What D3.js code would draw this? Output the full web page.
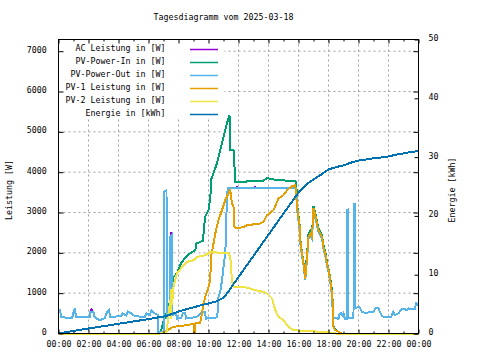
<!DOCTYPE html>
<html><head><meta charset="utf-8">
<script src="https://cdnjs.cloudflare.com/ajax/libs/d3/7.8.5/d3.min.js"></script>
<style>
html,body{margin:0;padding:0;background:#fff;}
svg{display:block;}
text{font-family:"DejaVu Sans Mono",monospace;font-size:8.3px;fill:#000;}
</style></head>
<body>
<svg id="chart" width="480" height="360"></svg>
<script>
const title = "Tagesdiagramm vom 2025-03-18";
const yLabel = "Leistung [W]";
const y2Label = "Energie [kWh]";
const seriesNames = ["AC Leistung in [W]","PV-Power-In in [W]","PV-Power-Out in [W]","PV-1 Leistung in [W]","PV-2 Leistung in [W]","Energie in [kWh]"];
const seriesColors = ["#9400d3","#009e73","#56b4e9","#e69f00","#f0e442","#0072b2"];
const xTickHours = [0,2,4,6,8,10,12,14,16,18,20,22,24];
const xTickLabels = ["00:00","02:00","04:00","06:00","08:00","10:00","12:00","14:00","16:00","18:00","20:00","22:00","00:00"];
const yTicks = [0,1000,2000,3000,4000,5000,6000,7000];
const y2Ticks = [0,10,20,30,40,50];

const pvOut = [["00:00",600],["00:07",580],["00:10",400],["00:55",390],["01:00",530],["01:05",620],["01:10",420],["02:05",410],["02:08",540],["02:20",520],["02:25",400],["02:45",330],["03:05",380],["03:15",540],["03:22",580],["03:27",410],["04:10",430],["04:17",500],["04:30",450],["04:37",540],["04:50",500],["05:05",430],["05:45",410],["05:52",500],["06:05",450],["06:12",580],["06:25",500],["06:38",460],["06:40",30],["07:02",30],["07:03",3520],["07:12",3550],["07:13",350],["07:20",480],["07:27",480],["07:28",2400],["07:33",2440],["07:34",450],["07:50",500],["07:55",370],["08:10",380],["08:17",500],["08:27",500],["08:30",370],["09:00",400],["09:20",430],["09:33",540],["09:45",540],["09:50",370],["10:35",400],["10:40",900],["10:47",1030],["10:54",1320],["11:00",1650],["11:05",1900],["11:10",2300],["11:13",3300],["11:17",3610],["15:50",3610],["15:56",3000],["16:04",2600],["16:07",2250],["16:14",1930],["16:20",1690],["16:27",1320],["16:34",1850],["16:40",2350],["16:47",2430],["16:54",2350],["17:00",3050],["17:07",2880],["17:14",2680],["17:20",2510],["17:27",2430],["17:34",2350],["17:40",2100],["17:47",1930],["17:54",1690],["18:00",1520],["18:07",1290],["18:14",940],["18:18",380],["18:40",370],["18:42",450],["18:50",500],["18:55",450],["19:00",510],["19:05",370],["19:13",370],["19:14",3070],["19:19",3075],["19:20",380],["19:40",380],["19:41",3200],["19:46",3200],["19:47",620],["20:00",660],["20:07",620],["20:14",540],["20:30",500],["20:45",540],["21:00",540],["21:07",620],["21:20",620],["21:25",540],["21:35",430],["21:45",400],["22:10",410],["22:15",480],["22:20",540],["22:25",460],["22:40",500],["22:55",620],["23:15",580],["23:20",620],["23:45",600],["23:50",750],["24:00",700]];

const acPower = [["00:00",600],["00:07",580],["00:10",400],["00:55",390],["01:00",530],["01:05",620],["01:10",420],["02:05",410],["02:08",540],["02:12",590],["02:20",520],["02:25",400],["02:45",330],["03:05",380],["03:15",540],["03:22",580],["03:27",410],["04:10",430],["04:17",500],["04:30",450],["04:37",540],["04:50",500],["05:05",430],["05:45",410],["05:52",500],["06:05",450],["06:12",580],["06:25",500],["06:38",460],["06:40",30],["07:02",30],["07:03",3520],["07:12",3550],["07:13",350],["07:20",480],["07:27",480],["07:28",2400],["07:31",2500],["07:33",2440],["07:34",450],["07:50",500],["07:55",370],["08:10",380],["08:17",500],["08:27",500],["08:30",370],["09:00",400],["09:20",430],["09:33",540],["09:45",540],["09:50",370],["10:35",400],["10:40",900],["10:47",1030],["10:54",1320],["11:00",1650],["11:05",1900],["11:10",2300],["11:13",3300],["11:17",3610],["11:52",3610],["11:54",3660],["11:56",3610],["13:05",3610],["13:07",3660],["13:09",3610],["15:50",3610],["15:56",3000],["16:04",2600],["16:07",2250],["16:14",1930],["16:20",1690],["16:27",1320],["16:34",1850],["16:40",2350],["16:47",2430],["16:54",2350],["17:00",3050],["17:07",2880],["17:14",2680],["17:20",2510],["17:27",2430],["17:34",2350],["17:40",2100],["17:47",1930],["17:54",1690],["18:00",1520],["18:07",1290],["18:14",940],["18:18",380],["18:40",370],["18:42",450],["18:50",500],["18:55",450],["19:00",510],["19:05",370],["19:13",370],["19:14",3070],["19:19",3075],["19:20",380],["19:40",380],["19:41",3200],["19:46",3200],["19:47",620],["20:00",660],["20:07",620],["20:14",540],["20:30",500],["20:45",540],["21:00",540],["21:07",620],["21:20",620],["21:25",540],["21:35",430],["21:45",400],["22:10",410],["22:15",480],["22:20",540],["22:25",460],["22:40",500],["22:55",620],["23:15",580],["23:20",620],["23:45",600],["23:50",750],["24:00",700]];

const pvIn = [["00:00",0],["06:45",0],["06:50",60],["07:00",300],["07:10",450],["07:20",660],["07:28",830],["07:32",1150],["07:40",1400],["07:54",1490],["08:10",1740],["08:30",1900],["08:47",1990],["09:07",2070],["09:12",2230],["09:38",2300],["09:42",2640],["09:47",2900],["10:00",3060],["10:07",3350],["10:12",3840],["10:34",4220],["10:47",4550],["11:00",4880],["11:14",5210],["11:24",5420],["11:27",4550],["11:40",4550],["11:44",4130],["11:47",3760],["12:30",3760],["12:40",3790],["13:40",3790],["13:54",3860],["14:07",3830],["14:47",3800],["15:47",3780],["15:51",3720],["15:56",3100],["16:04",2730],["16:07",2350],["16:14",2000],["16:20",1750],["16:27",1450],["16:34",1950],["16:40",2450],["16:47",2550],["16:54",2450],["17:00",3150],["17:07",2980],["17:14",2780],["17:20",2600],["17:27",2520],["17:34",2430],["17:40",2200],["17:47",2030],["17:54",1760],["18:00",1600],["18:07",1380],["18:14",1050],["18:18",680],["18:20",180],["18:27",90],["18:40",45],["18:55",0],["24:00",0]];

const pv1 = [["00:00",0],["06:45",0],["07:00",30],["07:20",100],["07:40",165],["08:00",180],["08:34",210],["09:03",240],["09:04",0],["09:05",245],["09:27",270],["09:34",495],["09:40",744],["09:47",907],["09:54",1031],["10:00",1155],["10:07",1322],["10:10",1900],["10:14",2023],["10:20",2231],["10:27",2480],["10:40",2809],["10:54",3057],["11:07",3306],["11:20",3471],["11:27",3553],["11:34",3223],["11:40",3140],["11:44",2643],["11:54",2603],["12:20",2643],["12:34",2685],["13:27",2727],["13:40",2768],["13:54",2933],["14:20",3057],["14:40",3347],["15:00",3430],["15:14",3553],["15:34",3652],["15:47",3677],["15:51",3387],["15:56",3057],["16:04",2685],["16:07",2313],["16:14",1983],["16:20",1735],["16:27",1364],["16:34",1900],["16:40",2395],["16:47",2480],["16:54",2395],["17:00",3100],["17:07",2933],["17:14",2727],["17:20",2561],["17:27",2480],["17:34",2395],["17:40",2150],["17:47",1983],["17:54",1735],["18:00",1570],["18:07",1340],["18:14",990],["18:18",660],["18:20",165],["18:27",82],["18:40",40],["18:54",0],["24:00",0]];

const pv2 = [["00:00",0],["06:45",0],["07:10",20],["07:14",80],["07:20",495],["07:27",826],["07:29",350],["07:31",1100],["07:34",700],["07:40",1155],["07:54",1490],["08:20",1694],["08:34",1775],["09:00",1817],["09:14",1900],["09:47",1942],["10:07",2023],["10:34",2008],["11:14",2008],["11:20",1983],["11:27",1900],["11:34",1322],["11:40",1155],["12:20",1155],["12:47",1116],["13:07",1074],["13:40",1031],["13:54",992],["14:14",868],["14:27",578],["14:40",412],["15:00",330],["15:20",165],["15:40",83],["16:34",57],["17:54",40],["18:14",15],["18:30",0],["24:00",0]];

const energy = [["00:00",0],["01:00",0.45],["02:00",0.85],["03:00",1.25],["04:00",1.65],["05:00",2.05],["06:00",2.45],["06:40",2.75],["07:00",2.85],["07:30",3.25],["08:00",3.75],["08:30",4.1],["09:00",4.45],["09:30",4.8],["10:00",5.1],["10:30",5.45],["10:47",5.8],["11:00",6.1],["11:14",6.8],["11:30",7.8],["12:00",9.6],["12:30",11.4],["13:00",13.2],["13:30",15.0],["14:00",16.8],["14:30",18.6],["15:00",20.4],["15:30",22.2],["15:50",23.4],["16:10",24.4],["16:30",25.3],["17:00",26.2],["17:30",27.0],["18:00",27.9],["18:30",28.3],["19:00",28.6],["19:40",29.2],["20:00",29.4],["21:00",29.8],["21:47",30.0],["22:30",30.4],["23:15",30.75],["24:00",31.05]];

const toHours = s => { const [h,m] = s.split(":").map(Number); return h + m/60; };

const L = 58.5, R = 418.5, T = 39.5, B = 333.5;
const svg = d3.select("#chart");
const x = d3.scaleLinear().domain([0,24]).range([L,R]);
const y = d3.scaleLinear().domain([0,7290]).range([B,T]);
const y2 = d3.scaleLinear().domain([0,50]).range([B,T]);

// grid
const grid = svg.append("g").attr("stroke","#a0a0a0").attr("stroke-width",1).attr("stroke-dasharray","2,3");
xTickHours.slice(1,-1).forEach(h => grid.append("line").attr("x1",x(h)).attr("x2",x(h)).attr("y1",T).attr("y2",B));
yTicks.slice(1).forEach(v => grid.append("line").attr("x1",L).attr("x2",R).attr("y1",y(v)).attr("y2",y(v)));

// series
const lineW = d3.line().x(d => x(toHours(d[0]))).y(d => y(d[1]));
const lineE = d3.line().x(d => x(toHours(d[0]))).y(d => y2(d[1]));
const plots = [
  {data: acPower, gen: lineW},
  {data: pvIn, gen: lineW},
  {data: pvOut, gen: lineW},
  {data: pv1, gen: lineW},
  {data: pv2, gen: lineW},
  {data: energy, gen: lineE}
];
const dataG = svg.append("g");
plots.forEach((p,i) => {
  dataG.append("path").attr("d", p.gen(p.data)).attr("fill","none")
    .attr("stroke", seriesColors[i]).attr("stroke-width",2).attr("stroke-linejoin","miter")
    .attr("shape-rendering","crispEdges");
});

// key (opaque)
svg.append("rect").attr("x",L+0.5).attr("y",T+0.5).attr("width",224-L).attr("height",118-T).attr("fill","#fff");
seriesNames.forEach((n,i) => {
  const ly = 49.5 + i*13;
  svg.append("text").attr("x",165.5).attr("y",ly+1).attr("text-anchor","end").text(n);
  svg.append("line").attr("x1",190).attr("x2",218).attr("y1",ly).attr("y2",ly)
    .attr("stroke",seriesColors[i]).attr("stroke-width",1.5);
});

// axes
function styleAxis(g){ g.select(".domain").remove(); g.selectAll("line").attr("stroke","#000"); g.selectAll("text").attr("font-family",null).attr("font-size",null).attr("fill","#000"); }
const minorHours = d3.range(1,24,2);
svg.append("g").attr("transform",`translate(0,${B})`)
  .call(d3.axisBottom(x).tickValues(xTickHours).tickFormat((d,i)=>xTickLabels[i]).tickSize(-4))
  .call(styleAxis).call(g => g.selectAll("text").attr("dy",null).attr("y",13.5));
svg.append("g").attr("transform",`translate(0,${B})`)
  .call(d3.axisBottom(x).tickValues(minorHours).tickFormat("").tickSize(-2)).call(styleAxis);
svg.append("g").attr("transform",`translate(0,${T})`)
  .call(d3.axisTop(x).tickValues(xTickHours).tickFormat("").tickSize(-4)).call(styleAxis);
svg.append("g").attr("transform",`translate(0,${T})`)
  .call(d3.axisTop(x).tickValues(minorHours).tickFormat("").tickSize(-2)).call(styleAxis);
svg.append("g").attr("transform",`translate(${L},0)`)
  .call(d3.axisLeft(y).tickValues(yTicks).tickFormat(d3.format("d")).tickSize(-5).tickPadding(11.8))
  .call(styleAxis).call(g => g.selectAll("text").attr("dy",null).attr("y",1));
svg.append("g").attr("transform",`translate(${R},0)`)
  .call(d3.axisRight(y).tickValues(yTicks).tickFormat("").tickSize(-5)).call(styleAxis);
svg.append("g").attr("transform",`translate(${R},0)`)
  .call(d3.axisRight(y2).tickValues(y2Ticks).tickFormat(d3.format("d")).tickSize(-4).tickPadding(10))
  .call(styleAxis).call(g => g.selectAll("text").attr("dy",null).attr("y",1));

// border
svg.append("rect").attr("x",L).attr("y",T).attr("width",R-L).attr("height",B-T)
  .attr("fill","none").attr("stroke","#000").attr("stroke-width",1);

// titles
svg.append("text").attr("x",223.5).attr("y",20).attr("text-anchor","middle").text(title);
svg.append("text").attr("transform","translate(11.5,190) rotate(-90)").attr("text-anchor","middle").text(yLabel);
svg.append("text").attr("transform","translate(454.5,190) rotate(-90)").attr("text-anchor","middle").text(y2Label);
</script>
</body></html>
